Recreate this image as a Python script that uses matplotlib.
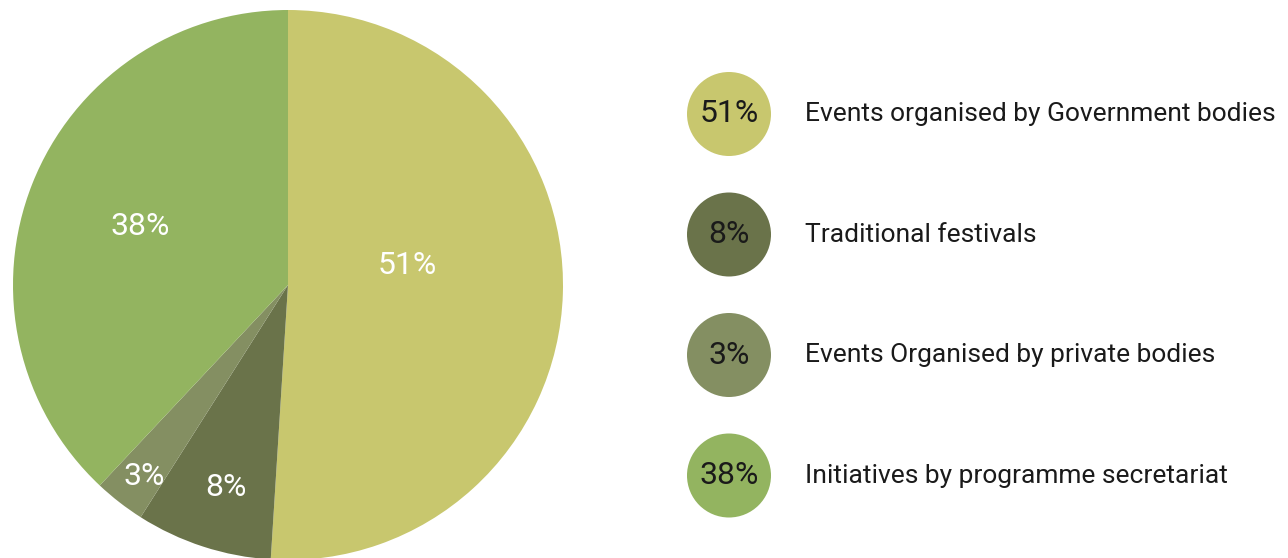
import matplotlib.pyplot as plt
from matplotlib.patches import Circle
import numpy as np

plt.rcParams['font.family'] = ['Roboto', 'DejaVu Sans']

categories = ['Events organised by Government bodies',
              'Traditional festivals',
              'Events Organised by private bodies',
              'Initiatives by programme secretariat']
shares = [51, 8, 3, 38]
colours = ['#C8C76E', '#6A734A', '#848F62', '#93B460']

# where each slice label sits: distance from centre and angle nudge (deg)
label_dist = [0.44, 0.77, 0.87, 0.58]
label_nudge = [11, 1, 1, 0]

fig = plt.figure(figsize=(12.88, 5.58), dpi=100)

# pie axes, sized in pixels
ax = fig.add_axes([13 / 1288, -2 / 558, 550 / 1288, 550 / 558])
wedges, _ = ax.pie(shares, colors=colours, startangle=90, counterclock=False,
                   radius=1, wedgeprops={'linewidth': 0})
ax.set_xlim(-1, 1)
ax.set_ylim(-1, 1)
ax.axis('off')

for w, s, d, n in zip(wedges, shares, label_dist, label_nudge):
    mid = np.deg2rad((w.theta1 + w.theta2) / 2 + n)
    ax.text(d * np.cos(mid), d * np.sin(mid), '{}%'.format(s),
            ha='center', va='center', color='w', fontsize=23)

# legend drawn in pixel coordinates
lg = fig.add_axes([0, 0, 1, 1])
lg.set_xlim(0, 1288)
lg.set_ylim(558, 0)
lg.axis('off')
lg.patch.set_alpha(0)

y0 = 114
step = 120.5
for i, (c, s, col) in enumerate(zip(categories, shares, colours)):
    y = y0 + i * step
    lg.add_patch(Circle((729, y), 42, color=col, lw=0))
    lg.text(729, y, '{}%'.format(s), ha='center', va='center',
            color='#1a1a1a', fontsize=23)
    lg.text(805, y, c, ha='left', va='center', color='#1a1a1a', fontsize=19)

plt.savefig('out.png', dpi=100)
